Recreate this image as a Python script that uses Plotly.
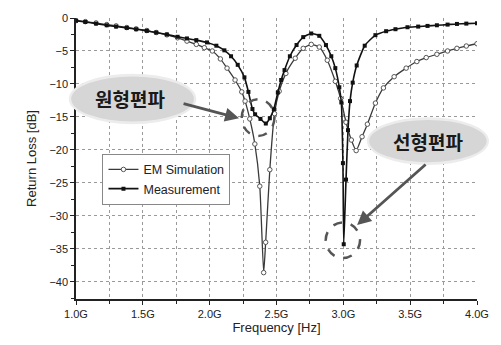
import plotly.graph_objects as go

# ---------------- data ----------------
meas_f = [1.00, 1.07, 1.15, 1.23, 1.30, 1.38, 1.45, 1.53, 1.60, 1.68, 1.76, 1.83, 1.90, 1.98,
          2.05, 2.11, 2.16, 2.21, 2.26, 2.29, 2.32, 2.34, 2.38, 2.42, 2.45, 2.48, 2.51, 2.535,
          2.56, 2.60, 2.65, 2.70, 2.76, 2.82, 2.87, 2.91, 2.94, 2.97, 2.985, 2.997, 3.003,
          3.02, 3.035, 3.05, 3.07, 3.10, 3.16, 3.24, 3.32, 3.39, 3.48, 3.56, 3.63, 3.70,
          3.78, 3.85, 3.92, 4.00]
meas_db = [-0.4, -0.6, -0.85, -1.1, -1.3, -1.5, -1.7, -1.95, -2.2, -2.5, -2.85, -3.1, -3.35, -3.7,
           -4.2, -4.9, -5.8, -7.1, -9.0, -11.2, -13.8, -14.6, -15.3, -16.0, -15.2, -13.8, -11.3, -9.4,
           -7.9, -5.8, -4.1, -2.9, -2.35, -2.7, -4.1, -5.8, -7.6, -10.5, -12.8, -22.0, -34.3,
           -24.5, -17.0, -12.6, -9.8, -7.2, -4.2, -2.6, -2.0, -1.7, -1.4, -1.3, -1.2, -1.1,
           -1.0, -0.9, -0.85, -0.8]

sim_f = [1.00, 1.07, 1.15, 1.23, 1.30, 1.38, 1.45, 1.53, 1.60, 1.68, 1.76, 1.83, 1.90, 1.96,
         2.02, 2.08, 2.13, 2.19, 2.24, 2.265, 2.30, 2.338, 2.375, 2.404, 2.419, 2.45, 2.485,
         2.52, 2.57, 2.64, 2.70, 2.76, 2.82, 2.88, 2.94, 2.98, 3.02, 3.06, 3.096, 3.14, 3.18,
         3.24, 3.30, 3.38, 3.47, 3.55, 3.62, 3.70, 3.78, 3.85, 3.92, 4.00]
sim_db = [-0.4, -0.55, -0.75, -1.0, -1.2, -1.45, -1.65, -1.9, -2.2, -2.55, -3.0, -3.5, -4.0, -4.5,
          -5.0, -6.2, -7.6, -9.4, -11.2, -12.6, -15.3, -19.1, -25.5, -38.6, -34.0, -23.0, -14.5,
          -11.1, -8.4, -6.1, -4.6, -4.0, -4.4, -6.4, -9.6, -12.2, -15.8, -18.5, -20.1, -18.0, -16.1,
          -12.9, -10.6, -8.9, -7.6, -6.6, -6.0, -5.5, -5.0, -4.6, -4.25, -3.9]

x_tickvals = [1.0, 1.5, 2.0, 2.5, 3.0, 3.5, 4.0]
x_ticktext = ["1.0G", "1.5G", "2.0G", "2.5G", "3.0G", "3.5G", "4.0G"]
y_tickvals = [0, -5, -10, -15, -20, -25, -30, -35, -40]

series_names = ["EM Simulation", "Measurement"]
callouts = ["원형편파", "선형편파"]
# circled regions (GHz, dB): x0, x1, y0, y1
circle1 = [2.24, 2.485, -12.3, -17.9]
circle2 = [2.868, 3.125, -31.0, -36.4]
# arrow heads (GHz, dB)
arrow1 = [2.22, -15.2]
arrow2 = [3.103, -31.4]

FONT = "Liberation Sans, Arial, sans-serif"

# ---------------- figure ----------------
fig = go.Figure()

fig.add_trace(go.Scatter(
    x=sim_f, y=sim_db, name=series_names[0], mode="lines+markers",
    line=dict(color="#3a3a3a", width=1.3, shape="spline", smoothing=0.5),
    marker=dict(symbol="circle", size=4.5, color="white", line=dict(color="#555", width=1)),
))
fig.add_trace(go.Scatter(
    x=meas_f, y=meas_db, name=series_names[1], mode="lines+markers",
    line=dict(color="#111111", width=1.6, shape="spline", smoothing=0.5),
    marker=dict(symbol="square", size=4, color="#111111"),
))

# dashed circles
for c in (circle1, circle2):
    fig.add_shape(type="circle", xref="x", yref="y", x0=c[0], x1=c[1], y0=c[2], y1=c[3],
                  line=dict(color="#555555", width=2.5, dash="dash"), layer="above")

# grey callout ellipses (paper coordinates)
ell = [(-0.012, 0.294, 0.632, 0.792), (0.731, 1.024, 0.487, 0.637)]
for (x0, x1, y0, y1) in ell:
    fig.add_shape(type="circle", xref="paper", yref="paper", x0=x0 - 0.006, x1=x1 + 0.006,
                  y0=y0 - 0.01, y1=y1 + 0.01, fillcolor="#ececec", line=dict(width=0), layer="above")
    fig.add_shape(type="circle", xref="paper", yref="paper", x0=x0, x1=x1, y0=y0, y1=y1,
                  fillcolor="#d6d6d6", line=dict(width=0), layer="above")

fig.add_annotation(x=0.135, y=0.714, xref="paper", yref="paper", text=f"<b>{callouts[0]}</b>",
                   xanchor="center", yanchor="middle", showarrow=False,
                   font=dict(family="Noto Sans CJK KR", size=19, color="#1a1a1a"))
fig.add_annotation(x=0.877, y=0.560, xref="paper", yref="paper", text=f"<b>{callouts[1]}</b>",
                   xanchor="center", yanchor="middle", showarrow=False,
                   font=dict(family="Noto Sans CJK KR", size=19, color="#1a1a1a"))

# arrows
fig.add_annotation(x=arrow1[0], y=arrow1[1], xref="x", yref="y", ax=-57, ay=-15, text="",
                   showarrow=True, arrowhead=2, arrowsize=1, arrowwidth=2.8, arrowcolor="#555555")
fig.add_annotation(x=arrow2[0], y=arrow2[1], xref="x", yref="y", ax=70, ay=-62, text="",
                   showarrow=True, arrowhead=2, arrowsize=1, arrowwidth=2.8, arrowcolor="#555555")

axis_font = dict(family=FONT, size=11, color="#222")
fig.update_xaxes(
    range=[1.0, 4.0], tickvals=x_tickvals, ticktext=x_ticktext, tickfont=axis_font,
    showline=True, linecolor="#222", linewidth=1.5, ticks="outside", ticklen=4, tickcolor="#222",
    minor=dict(dtick=0.25, ticks="outside", ticklen=3, tickcolor="#222", showgrid=True,
               gridcolor="#9a9a9a", griddash="dot", gridwidth=1),
    showgrid=True, gridcolor="#9a9a9a", griddash="dot", gridwidth=1, zeroline=False,
    title=dict(text="Frequency [Hz]", font=dict(family=FONT, size=13, color="#222"), standoff=4),
)
fig.update_yaxes(
    range=[-42.6, 0], tickvals=y_tickvals, tickfont=axis_font,
    showline=True, linecolor="#222", linewidth=1.5, ticks="outside", ticklen=4, tickcolor="#222",
    minor=dict(dtick=2.5, ticks="outside", ticklen=3, tickcolor="#222", showgrid=False),
    showgrid=True, gridcolor="#9a9a9a", griddash="dot", gridwidth=1, zeroline=False,
    title=dict(text="Return Loss [dB]", font=dict(family=FONT, size=13, color="#222"), standoff=10),
)

fig.update_layout(
    width=501, height=345, margin=dict(l=76, r=17, t=16, b=46),
    plot_bgcolor="white", paper_bgcolor="white", showlegend=True,
    legend=dict(x=0.066, y=0.426, xanchor="left", yanchor="middle", bgcolor="white",
                bordercolor="#888", borderwidth=1, tracegroupgap=0, itemwidth=30,
                font=dict(family=FONT, size=12.5, color="#222")),
)

fig.write_html("out.html")
